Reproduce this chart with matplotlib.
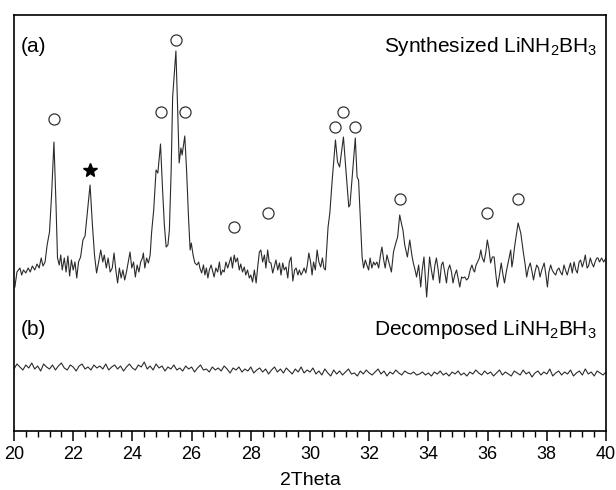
import numpy as np
import matplotlib.pyplot as plt
from matplotlib.ticker import MultipleLocator

plt.rcParams['font.family'] = ['Liberation Sans', 'DejaVu Sans']
plt.rcParams['mathtext.default'] = 'regular'

# (a) synthesized LiNH2BH3, intensity in a.u.
tth_a = [20.03, 20.10, 20.20, 20.26, 20.32, 20.40, 20.48, 20.55, 20.62, 20.70, 20.78, 20.85, 20.92, 20.98,
         21.05, 21.12, 21.20, 21.27, 21.35, 21.42, 21.47, 21.53, 21.58, 21.63, 21.70, 21.76, 21.82, 21.88,
         21.94, 22.00, 22.06, 22.12, 22.18, 22.25, 22.33, 22.40, 22.47, 22.57, 22.65, 22.72, 22.79, 22.86,
         22.93, 23.00, 23.05, 23.12, 23.18, 23.25, 23.32, 23.38, 23.44, 23.50, 23.56, 23.62, 23.68, 23.74,
         23.80, 23.86, 23.92, 23.98, 24.04, 24.10, 24.16, 24.22, 24.28, 24.34, 24.37, 24.42, 24.48, 24.54,
         24.60, 24.65, 24.72, 24.80, 24.86, 24.95, 25.02, 25.08, 25.14, 25.20, 25.25, 25.31, 25.36, 25.47,
         25.53, 25.58, 25.64, 25.68, 25.77, 25.83, 25.90, 25.95, 25.99, 26.05, 26.11, 26.18, 26.24, 26.28,
         26.34, 26.40, 26.45, 26.50, 26.55, 26.60, 26.66, 26.72, 26.76, 26.82, 26.88, 26.94, 26.99, 27.05,
         27.10, 27.16, 27.22, 27.27, 27.33, 27.38, 27.44, 27.49, 27.55, 27.61, 27.66, 27.72, 27.78, 27.83,
         27.89, 27.95, 28.00, 28.06, 28.12, 28.18, 28.24, 28.29, 28.34, 28.40, 28.46, 28.51, 28.57, 28.62,
         28.68, 28.74, 28.80, 28.85, 28.91, 28.97, 29.02, 29.08, 29.13, 29.19, 29.25, 29.30, 29.36, 29.42,
         29.48, 29.53, 29.59, 29.64, 29.70, 29.75, 29.80, 29.86, 29.91, 29.96, 30.02, 30.07, 30.12, 30.18,
         30.24, 30.30, 30.36, 30.42, 30.47, 30.52, 30.61, 30.67, 30.75, 30.86, 30.93, 31.00, 31.13, 31.20,
         31.31, 31.35, 31.43, 31.53, 31.59, 31.64, 31.76, 31.81, 31.87, 31.92, 31.98, 32.03, 32.09, 32.15,
         32.20, 32.26, 32.32, 32.38, 32.43, 32.49, 32.54, 32.60, 32.66, 32.75, 32.82, 32.88, 32.96, 33.03,
         33.10, 33.14, 33.20, 33.29, 33.37, 33.44, 33.49, 33.55, 33.60, 33.67, 33.74, 33.79, 33.85, 33.94,
         34.04, 34.10, 34.16, 34.22, 34.27, 34.33, 34.38, 34.44, 34.49, 34.55, 34.61, 34.66, 34.72, 34.78,
         34.83, 34.89, 34.95, 35.00, 35.06, 35.12, 35.17, 35.23, 35.29, 35.35, 35.41, 35.47, 35.52, 35.56,
         35.61, 35.66, 35.72, 35.77, 35.82, 35.88, 35.94, 35.99, 36.05, 36.10, 36.16, 36.22, 36.28, 36.33,
         36.40, 36.46, 36.52, 36.57, 36.63, 36.69, 36.74, 36.78, 36.82, 36.86, 36.91, 37.03, 37.12, 37.21,
         37.27, 37.32, 37.38, 37.44, 37.49, 37.55, 37.60, 37.66, 37.72, 37.77, 37.83, 37.91, 37.97, 38.02,
         38.07, 38.13, 38.18, 38.24, 38.30, 38.35, 38.41, 38.46, 38.52, 38.58, 38.63, 38.69, 38.75, 38.80,
         38.86, 38.92, 38.98, 39.03, 39.09, 39.14, 39.20, 39.25, 39.30, 39.36, 39.41, 39.47, 39.52, 39.58,
         39.63, 39.69, 39.73, 39.78, 39.85, 39.92, 40.00]
int_a = [13, 28, 32, 25, 30, 27, 32, 28, 34, 30, 36, 32, 42, 34,
         38, 55, 68, 105, 158, 95, 42, 35, 45, 30, 42, 28, 44, 24,
         40, 30, 38, 22, 38, 43, 60, 64, 85, 115, 75, 45, 27, 38,
         50, 38, 45, 32, 42, 28, 32, 47, 30, 17, 32, 22, 30, 20,
         28, 38, 48, 32, 38, 23, 35, 28, 38, 42, 47, 32, 42, 37,
         45, 68, 90, 130, 127, 156, 110, 75, 53, 55, 70, 130, 203, 249,
         190, 137, 152, 145, 164, 130, 80, 50, 57, 45, 37, 35, 38, 32,
         27, 35, 25, 32, 22, 30, 35, 28, 23, 32, 28, 38, 25, 30,
         28, 38, 32, 37, 43, 32, 45, 38, 42, 30, 36, 28, 33, 25,
         30, 22, 25, 18, 30, 17, 35, 48, 50, 38, 45, 32, 50, 38,
         37, 27, 34, 40, 30, 37, 25, 37, 30, 33, 22, 38, 43, 19,
         30, 32, 25, 30, 25, 28, 32, 27, 35, 47, 38, 25, 38, 30,
         50, 38, 33, 42, 32, 30, 73, 87, 120, 160, 138, 133, 163, 135,
         93, 95, 125, 162, 123, 120, 43, 32, 40, 35, 30, 42, 32, 38,
         35, 38, 32, 45, 53, 40, 32, 45, 38, 28, 48, 55, 63, 85,
         75, 70, 55, 43, 60, 45, 37, 30, 23, 35, 13, 30, 43, 3,
         43, 30, 20, 35, 42, 30, 17, 35, 38, 28, 17, 30, 35, 28,
         17, 25, 30, 22, 13, 23, 22, 23, 20, 22, 30, 35, 30, 28,
         35, 38, 42, 50, 42, 38, 48, 60, 50, 37, 43, 43, 25, 13,
         25, 37, 25, 17, 28, 37, 45, 50, 33, 40, 53, 77, 67, 47,
         35, 23, 32, 37, 30, 20, 28, 35, 32, 23, 30, 37, 25, 13,
         28, 35, 30, 27, 25, 30, 32, 28, 25, 35, 30, 25, 32, 37,
         27, 38, 30, 27, 38, 40, 33, 38, 45, 32, 34, 42, 37, 33,
         38, 42, 42, 38, 42, 38, 42]

# (b) decomposed LiNH2BH3, 0.1 deg steps from 20 to 40
tth_b = np.round(np.arange(20.0, 40.05, 0.1), 2)
int_b = [31, 36, 33, 30, 35, 32, 37, 31, 34, 29, 36, 33, 31, 35, 30, 34, 37, 32, 30, 35,
         33, 29, 34, 36, 31, 33, 30, 35, 32, 34, 31, 36, 30, 33, 35, 31, 34, 29, 33, 36,
         32, 30, 35, 33, 38, 31, 34, 30, 36, 32,
         34, 29, 33, 31, 35, 30, 32, 29, 34, 31, 33, 28, 32, 35, 30, 31, 28, 33, 30, 32,
         29, 34, 31, 27, 32, 30, 33, 28, 31, 29, 33, 27, 30, 32, 28, 31, 26, 30, 33, 28,
         31, 27, 32, 29, 26, 31, 28, 33, 27, 30,
         28, 32, 26, 29, 25, 31, 27, 24, 30, 26, 29, 25, 28, 31, 26, 27, 24, 29, 26, 30,
         27, 25, 28, 31, 26, 29, 24, 28, 26, 30, 27, 25, 29, 27, 26, 28, 25, 26, 28, 25,
         27, 24, 28, 26, 29, 25, 27, 24, 28, 26,
         29, 25, 27, 24, 28, 26, 30, 27, 25, 29, 26, 28, 24, 27, 30, 25, 28, 26, 24, 29,
         27, 25, 30, 26, 28, 23, 27, 29, 25, 28, 26, 31, 24, 27, 29, 25, 28, 26, 30, 24,
         27, 29, 25, 31, 26, 28, 24, 29, 27, 25, 28]

# peak markers: LiNH2BH3 (circles) and impurity (star)
circle_tth = [21.35, 24.95, 25.47, 25.77, 27.44, 28.57, 30.86, 31.13, 31.53, 33.03, 35.99, 37.03]
circle_int = [181, 188, 260, 188, 73, 87, 173, 188, 173, 101, 87, 101]
star_tth = [22.57]
star_int = [130]

offset_a = 131
offset_b = 31

fig = plt.figure(figsize=(6.16, 4.90), dpi=100)
ax = fig.add_axes([0.0227, 0.1204, 0.9611, 0.849])

ax.plot(tth_a, np.array(int_a) + offset_a, color='#2b2b2b', lw=0.8)
ax.plot(tth_b, np.array(int_b) + offset_b, color='#2b2b2b', lw=0.8)
ax.plot(circle_tth, np.array(circle_int) + offset_a, 'o', mfc='white', mec='#333333',
        ms=8, mew=0.9, ls='none')
ax.plot(star_tth, np.array(star_int) + offset_a, '*', color='black', ms=10, ls='none')

ax.text(0.012, 0.925, '(a)', transform=ax.transAxes, fontsize=15, va='center', ha='left')
ax.text(0.985, 0.925, 'Synthesized LiNH$_2$BH$_3$', transform=ax.transAxes,
        fontsize=15, va='center', ha='right')
ax.text(0.012, 0.245, '(b)', transform=ax.transAxes, fontsize=15, va='center', ha='left')
ax.text(0.985, 0.245, 'Decomposed LiNH$_2$BH$_3$', transform=ax.transAxes,
        fontsize=15, va='center', ha='right')

ax.set_xlim(20, 40)
ax.set_ylim(0, 416)
ax.xaxis.set_major_locator(MultipleLocator(2))
ax.xaxis.set_minor_locator(MultipleLocator(0.4))
ax.tick_params(axis='x', which='major', direction='out', length=7, width=1.1, labelsize=13)
ax.tick_params(axis='x', which='minor', direction='out', length=4, width=1.0)
ax.set_yticks([])
for s in ax.spines.values():
    s.set_linewidth(1.2)
ax.set_xlabel('2Theta', fontsize=14, labelpad=7)

fig.savefig('out.png', dpi=100)
